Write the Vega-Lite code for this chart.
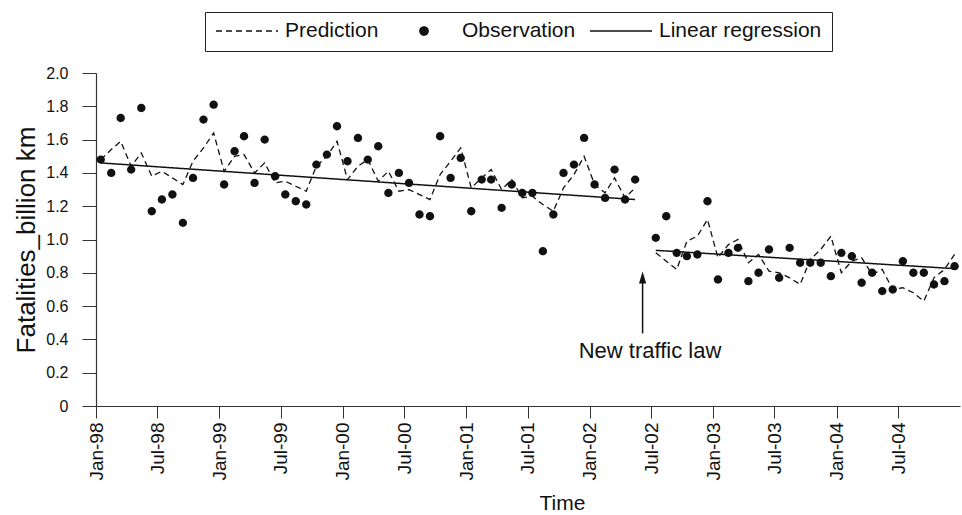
{
  "$schema": "https://vega.github.io/schema/vega-lite/v6.json",
  "width": 864,
  "height": 333,
  "autosize": {"type": "none"},
  "padding": {"left": 96, "top": 73, "right": 2, "bottom": 109},
  "background": "white",
  "config": {
    "view": {"stroke": null},
    "font": "Liberation Sans",
    "axis": {"grid": false, "domainColor": "#333", "tickColor": "#333", "labelColor": "#111", "titleColor": "#111", "labelFont": "Liberation Sans", "titleFont": "Liberation Sans", "titleFontWeight": "normal", "domainWidth": 1.2, "tickWidth": 1},
    "legend": {"padding": 10, "strokeColor": "#222", "fillColor": "white", "labelFont": "Liberation Sans", "labelFontSize": 21, "labelColor": "#111", "labelOffset": 6, "labelLimit": 300, "symbolSize": 3844, "symbolStrokeWidth": 1.3, "symbolStrokeColor": "#111", "symbolFillColor": "#111", "symbolOpacity": 1, "clipHeight": 18, "columnPadding": 13}
  },
  "data": {"values": [
    {"date": "1998-01-15", "series": "Observation", "seg": 1, "value": 1.48},
    {"date": "1998-02-15", "series": "Observation", "seg": 1, "value": 1.40},
    {"date": "1998-03-15", "series": "Observation", "seg": 1, "value": 1.73},
    {"date": "1998-04-15", "series": "Observation", "seg": 1, "value": 1.42},
    {"date": "1998-05-15", "series": "Observation", "seg": 1, "value": 1.79},
    {"date": "1998-06-15", "series": "Observation", "seg": 1, "value": 1.17},
    {"date": "1998-07-15", "series": "Observation", "seg": 1, "value": 1.24},
    {"date": "1998-08-15", "series": "Observation", "seg": 1, "value": 1.27},
    {"date": "1998-09-15", "series": "Observation", "seg": 1, "value": 1.10},
    {"date": "1998-10-15", "series": "Observation", "seg": 1, "value": 1.37},
    {"date": "1998-11-15", "series": "Observation", "seg": 1, "value": 1.72},
    {"date": "1998-12-15", "series": "Observation", "seg": 1, "value": 1.81},
    {"date": "1999-01-15", "series": "Observation", "seg": 1, "value": 1.33},
    {"date": "1999-02-15", "series": "Observation", "seg": 1, "value": 1.53},
    {"date": "1999-03-15", "series": "Observation", "seg": 1, "value": 1.62},
    {"date": "1999-04-15", "series": "Observation", "seg": 1, "value": 1.34},
    {"date": "1999-05-15", "series": "Observation", "seg": 1, "value": 1.60},
    {"date": "1999-06-15", "series": "Observation", "seg": 1, "value": 1.38},
    {"date": "1999-07-15", "series": "Observation", "seg": 1, "value": 1.27},
    {"date": "1999-08-15", "series": "Observation", "seg": 1, "value": 1.23},
    {"date": "1999-09-15", "series": "Observation", "seg": 1, "value": 1.21},
    {"date": "1999-10-15", "series": "Observation", "seg": 1, "value": 1.45},
    {"date": "1999-11-15", "series": "Observation", "seg": 1, "value": 1.51},
    {"date": "1999-12-15", "series": "Observation", "seg": 1, "value": 1.68},
    {"date": "2000-01-15", "series": "Observation", "seg": 1, "value": 1.47},
    {"date": "2000-02-15", "series": "Observation", "seg": 1, "value": 1.61},
    {"date": "2000-03-15", "series": "Observation", "seg": 1, "value": 1.48},
    {"date": "2000-04-15", "series": "Observation", "seg": 1, "value": 1.56},
    {"date": "2000-05-15", "series": "Observation", "seg": 1, "value": 1.28},
    {"date": "2000-06-15", "series": "Observation", "seg": 1, "value": 1.40},
    {"date": "2000-07-15", "series": "Observation", "seg": 1, "value": 1.34},
    {"date": "2000-08-15", "series": "Observation", "seg": 1, "value": 1.15},
    {"date": "2000-09-15", "series": "Observation", "seg": 1, "value": 1.14},
    {"date": "2000-10-15", "series": "Observation", "seg": 1, "value": 1.62},
    {"date": "2000-11-15", "series": "Observation", "seg": 1, "value": 1.37},
    {"date": "2000-12-15", "series": "Observation", "seg": 1, "value": 1.49},
    {"date": "2001-01-15", "series": "Observation", "seg": 1, "value": 1.17},
    {"date": "2001-02-15", "series": "Observation", "seg": 1, "value": 1.36},
    {"date": "2001-03-15", "series": "Observation", "seg": 1, "value": 1.36},
    {"date": "2001-04-15", "series": "Observation", "seg": 1, "value": 1.19},
    {"date": "2001-05-15", "series": "Observation", "seg": 1, "value": 1.33},
    {"date": "2001-06-15", "series": "Observation", "seg": 1, "value": 1.28},
    {"date": "2001-07-15", "series": "Observation", "seg": 1, "value": 1.28},
    {"date": "2001-08-15", "series": "Observation", "seg": 1, "value": 0.93},
    {"date": "2001-09-15", "series": "Observation", "seg": 1, "value": 1.15},
    {"date": "2001-10-15", "series": "Observation", "seg": 1, "value": 1.40},
    {"date": "2001-11-15", "series": "Observation", "seg": 1, "value": 1.45},
    {"date": "2001-12-15", "series": "Observation", "seg": 1, "value": 1.61},
    {"date": "2002-01-15", "series": "Observation", "seg": 1, "value": 1.33},
    {"date": "2002-02-15", "series": "Observation", "seg": 1, "value": 1.25},
    {"date": "2002-03-15", "series": "Observation", "seg": 1, "value": 1.42},
    {"date": "2002-04-15", "series": "Observation", "seg": 1, "value": 1.24},
    {"date": "2002-05-15", "series": "Observation", "seg": 1, "value": 1.36},
    {"date": "2002-07-15", "series": "Observation", "seg": 2, "value": 1.01},
    {"date": "2002-08-15", "series": "Observation", "seg": 2, "value": 1.14},
    {"date": "2002-09-15", "series": "Observation", "seg": 2, "value": 0.92},
    {"date": "2002-10-15", "series": "Observation", "seg": 2, "value": 0.90},
    {"date": "2002-11-15", "series": "Observation", "seg": 2, "value": 0.91},
    {"date": "2002-12-15", "series": "Observation", "seg": 2, "value": 1.23},
    {"date": "2003-01-15", "series": "Observation", "seg": 2, "value": 0.76},
    {"date": "2003-02-15", "series": "Observation", "seg": 2, "value": 0.92},
    {"date": "2003-03-15", "series": "Observation", "seg": 2, "value": 0.95},
    {"date": "2003-04-15", "series": "Observation", "seg": 2, "value": 0.75},
    {"date": "2003-05-15", "series": "Observation", "seg": 2, "value": 0.80},
    {"date": "2003-06-15", "series": "Observation", "seg": 2, "value": 0.94},
    {"date": "2003-07-15", "series": "Observation", "seg": 2, "value": 0.77},
    {"date": "2003-08-15", "series": "Observation", "seg": 2, "value": 0.95},
    {"date": "2003-09-15", "series": "Observation", "seg": 2, "value": 0.86},
    {"date": "2003-10-15", "series": "Observation", "seg": 2, "value": 0.86},
    {"date": "2003-11-15", "series": "Observation", "seg": 2, "value": 0.86},
    {"date": "2003-12-15", "series": "Observation", "seg": 2, "value": 0.78},
    {"date": "2004-01-15", "series": "Observation", "seg": 2, "value": 0.92},
    {"date": "2004-02-15", "series": "Observation", "seg": 2, "value": 0.90},
    {"date": "2004-03-15", "series": "Observation", "seg": 2, "value": 0.74},
    {"date": "2004-04-15", "series": "Observation", "seg": 2, "value": 0.80},
    {"date": "2004-05-15", "series": "Observation", "seg": 2, "value": 0.69},
    {"date": "2004-06-15", "series": "Observation", "seg": 2, "value": 0.70},
    {"date": "2004-07-15", "series": "Observation", "seg": 2, "value": 0.87},
    {"date": "2004-08-15", "series": "Observation", "seg": 2, "value": 0.80},
    {"date": "2004-09-15", "series": "Observation", "seg": 2, "value": 0.80},
    {"date": "2004-10-15", "series": "Observation", "seg": 2, "value": 0.73},
    {"date": "2004-11-15", "series": "Observation", "seg": 2, "value": 0.75},
    {"date": "2004-12-15", "series": "Observation", "seg": 2, "value": 0.84},
    {"date": "1998-01-15", "series": "Prediction", "seg": 1, "value": 1.48},
    {"date": "1998-02-15", "series": "Prediction", "seg": 1, "value": 1.54},
    {"date": "1998-03-15", "series": "Prediction", "seg": 1, "value": 1.59},
    {"date": "1998-04-15", "series": "Prediction", "seg": 1, "value": 1.44},
    {"date": "1998-05-15", "series": "Prediction", "seg": 1, "value": 1.52},
    {"date": "1998-06-15", "series": "Prediction", "seg": 1, "value": 1.38},
    {"date": "1998-07-15", "series": "Prediction", "seg": 1, "value": 1.41},
    {"date": "1998-08-15", "series": "Prediction", "seg": 1, "value": 1.37},
    {"date": "1998-09-15", "series": "Prediction", "seg": 1, "value": 1.33},
    {"date": "1998-10-15", "series": "Prediction", "seg": 1, "value": 1.47},
    {"date": "1998-11-15", "series": "Prediction", "seg": 1, "value": 1.55},
    {"date": "1998-12-15", "series": "Prediction", "seg": 1, "value": 1.64},
    {"date": "1999-01-15", "series": "Prediction", "seg": 1, "value": 1.41},
    {"date": "1999-02-15", "series": "Prediction", "seg": 1, "value": 1.50},
    {"date": "1999-03-15", "series": "Prediction", "seg": 1, "value": 1.51},
    {"date": "1999-04-15", "series": "Prediction", "seg": 1, "value": 1.40},
    {"date": "1999-05-15", "series": "Prediction", "seg": 1, "value": 1.46},
    {"date": "1999-06-15", "series": "Prediction", "seg": 1, "value": 1.34},
    {"date": "1999-07-15", "series": "Prediction", "seg": 1, "value": 1.35},
    {"date": "1999-08-15", "series": "Prediction", "seg": 1, "value": 1.32},
    {"date": "1999-09-15", "series": "Prediction", "seg": 1, "value": 1.29},
    {"date": "1999-10-15", "series": "Prediction", "seg": 1, "value": 1.44},
    {"date": "1999-11-15", "series": "Prediction", "seg": 1, "value": 1.50},
    {"date": "1999-12-15", "series": "Prediction", "seg": 1, "value": 1.59},
    {"date": "2000-01-15", "series": "Prediction", "seg": 1, "value": 1.36},
    {"date": "2000-02-15", "series": "Prediction", "seg": 1, "value": 1.44},
    {"date": "2000-03-15", "series": "Prediction", "seg": 1, "value": 1.48},
    {"date": "2000-04-15", "series": "Prediction", "seg": 1, "value": 1.35},
    {"date": "2000-05-15", "series": "Prediction", "seg": 1, "value": 1.41},
    {"date": "2000-06-15", "series": "Prediction", "seg": 1, "value": 1.29},
    {"date": "2000-07-15", "series": "Prediction", "seg": 1, "value": 1.30},
    {"date": "2000-08-15", "series": "Prediction", "seg": 1, "value": 1.27},
    {"date": "2000-09-15", "series": "Prediction", "seg": 1, "value": 1.24},
    {"date": "2000-10-15", "series": "Prediction", "seg": 1, "value": 1.39},
    {"date": "2000-11-15", "series": "Prediction", "seg": 1, "value": 1.47},
    {"date": "2000-12-15", "series": "Prediction", "seg": 1, "value": 1.55},
    {"date": "2001-01-15", "series": "Prediction", "seg": 1, "value": 1.31},
    {"date": "2001-02-15", "series": "Prediction", "seg": 1, "value": 1.37},
    {"date": "2001-03-15", "series": "Prediction", "seg": 1, "value": 1.42},
    {"date": "2001-04-15", "series": "Prediction", "seg": 1, "value": 1.30},
    {"date": "2001-05-15", "series": "Prediction", "seg": 1, "value": 1.36},
    {"date": "2001-06-15", "series": "Prediction", "seg": 1, "value": 1.25},
    {"date": "2001-07-15", "series": "Prediction", "seg": 1, "value": 1.26},
    {"date": "2001-08-15", "series": "Prediction", "seg": 1, "value": 1.21},
    {"date": "2001-09-15", "series": "Prediction", "seg": 1, "value": 1.17},
    {"date": "2001-10-15", "series": "Prediction", "seg": 1, "value": 1.31},
    {"date": "2001-11-15", "series": "Prediction", "seg": 1, "value": 1.39},
    {"date": "2001-12-15", "series": "Prediction", "seg": 1, "value": 1.50},
    {"date": "2002-01-15", "series": "Prediction", "seg": 1, "value": 1.33},
    {"date": "2002-02-15", "series": "Prediction", "seg": 1, "value": 1.28},
    {"date": "2002-03-15", "series": "Prediction", "seg": 1, "value": 1.37},
    {"date": "2002-04-15", "series": "Prediction", "seg": 1, "value": 1.25},
    {"date": "2002-05-15", "series": "Prediction", "seg": 1, "value": 1.31},
    {"date": "2002-07-15", "series": "Prediction", "seg": 2, "value": 0.92},
    {"date": "2002-08-15", "series": "Prediction", "seg": 2, "value": 0.87},
    {"date": "2002-09-15", "series": "Prediction", "seg": 2, "value": 0.82},
    {"date": "2002-10-15", "series": "Prediction", "seg": 2, "value": 0.99},
    {"date": "2002-11-15", "series": "Prediction", "seg": 2, "value": 1.02},
    {"date": "2002-12-15", "series": "Prediction", "seg": 2, "value": 1.12},
    {"date": "2003-01-15", "series": "Prediction", "seg": 2, "value": 0.89},
    {"date": "2003-02-15", "series": "Prediction", "seg": 2, "value": 0.97},
    {"date": "2003-03-15", "series": "Prediction", "seg": 2, "value": 1.00},
    {"date": "2003-04-15", "series": "Prediction", "seg": 2, "value": 0.86},
    {"date": "2003-05-15", "series": "Prediction", "seg": 2, "value": 0.91},
    {"date": "2003-06-15", "series": "Prediction", "seg": 2, "value": 0.81},
    {"date": "2003-07-15", "series": "Prediction", "seg": 2, "value": 0.80},
    {"date": "2003-08-15", "series": "Prediction", "seg": 2, "value": 0.77},
    {"date": "2003-09-15", "series": "Prediction", "seg": 2, "value": 0.73},
    {"date": "2003-10-15", "series": "Prediction", "seg": 2, "value": 0.88},
    {"date": "2003-11-15", "series": "Prediction", "seg": 2, "value": 0.94},
    {"date": "2003-12-15", "series": "Prediction", "seg": 2, "value": 1.02},
    {"date": "2004-01-15", "series": "Prediction", "seg": 2, "value": 0.80},
    {"date": "2004-02-15", "series": "Prediction", "seg": 2, "value": 0.87},
    {"date": "2004-03-15", "series": "Prediction", "seg": 2, "value": 0.89},
    {"date": "2004-04-15", "series": "Prediction", "seg": 2, "value": 0.79},
    {"date": "2004-05-15", "series": "Prediction", "seg": 2, "value": 0.82},
    {"date": "2004-06-15", "series": "Prediction", "seg": 2, "value": 0.70},
    {"date": "2004-07-15", "series": "Prediction", "seg": 2, "value": 0.71},
    {"date": "2004-08-15", "series": "Prediction", "seg": 2, "value": 0.68},
    {"date": "2004-09-15", "series": "Prediction", "seg": 2, "value": 0.63},
    {"date": "2004-10-15", "series": "Prediction", "seg": 2, "value": 0.77},
    {"date": "2004-11-15", "series": "Prediction", "seg": 2, "value": 0.82},
    {"date": "2004-12-15", "series": "Prediction", "seg": 2, "value": 0.91},
    {"date": "1998-01-15", "series": "Linear regression", "seg": 1, "value": 1.46},
    {"date": "2002-05-15", "series": "Linear regression", "seg": 1, "value": 1.24},
    {"date": "2002-07-15", "series": "Linear regression", "seg": 2, "value": 0.935},
    {"date": "2004-12-15", "series": "Linear regression", "seg": 2, "value": 0.825}
  ]},
  "encoding": {
    "x": {
      "field": "date", "type": "temporal",
      "scale": {"type": "utc", "domain": [{"year": 1998, "month": 1, "date": 1, "utc": true}, {"year": 2004, "month": 12, "date": 31, "utc": true}]},
      "axis": {"title": "Time", "format": "%b-%y", "labelAngle": -90, "tickCount": {"interval": "month", "step": 6}, "tickSize": 12, "labelPadding": 4, "labelFontSize": 19, "titleFontSize": 21, "titlePadding": 12, "labelFlush": false, "labelOverlap": false, "titleX": 466}
    },
    "y": {
      "field": "value", "type": "quantitative",
      "scale": {"domain": [0, 2], "nice": false},
      "axis": {"title": "Fatalities_billion km", "values": [0, 0.2, 0.4, 0.6, 0.8, 1.0, 1.2, 1.4, 1.6, 1.8, 2.0], "labelExpr": "datum.value == 0 ? '0' : format(datum.value, '.1f')", "tickSize": 14, "labelPadding": 14, "labelFontSize": 16, "titleFontSize": 26, "titlePadding": 6}
    }
  },
  "layer": [
    {
      "transform": [{"filter": "datum.series == 'Observation'"}],
      "mark": {"type": "point", "filled": true, "size": 3844, "color": "#111", "opacity": 1},
      "encoding": {
        "shape": {"field": "series", "type": "nominal",
          "scale": {"domain": ["Prediction", "Observation", "Linear regression"], "range": ["stroke", "M0.135,0A0.135,0.135,0,1,1,-0.135,0A0.135,0.135,0,1,1,0.135,0Z", "stroke"]},
          "legend": {"title": null, "orient": "none", "legendX": 109, "legendY": -61, "direction": "horizontal", "columns": 3,
            "encode": {"symbols": {"update": {"fill": {"value": "#111"}, "stroke": {"value": "#111"}, "strokeWidth": {"value": 1.3}, "opacity": {"value": 1}}}}}
        }
      }
    },
    {
      "transform": [{"filter": "datum.series == 'Prediction'"}],
      "mark": {"type": "line", "color": "#111", "strokeWidth": 1.3},
      "encoding": {
        "detail": {"field": "seg", "type": "nominal"},
        "strokeDash": {"field": "series", "type": "nominal",
          "scale": {"domain": ["Prediction", "Observation", "Linear regression"], "range": [[6, 4], [1, 0], [1, 0]]},
          "legend": {"title": null, "orient": "none", "legendX": 109, "legendY": -61, "direction": "horizontal", "columns": 3,
            "encode": {"symbols": {"update": {"fill": {"value": "#111"}, "stroke": {"value": "#111"}, "strokeWidth": {"value": 1.3}, "opacity": {"value": 1}}}}}
        }
      }
    },
    {
      "transform": [{"filter": "datum.series == 'Linear regression'"}],
      "mark": {"type": "line", "color": "#111", "strokeWidth": 1.5},
      "encoding": {
        "detail": {"field": "seg", "type": "nominal"},
        "strokeDash": {"field": "series", "type": "nominal",
          "scale": {"domain": ["Prediction", "Observation", "Linear regression"], "range": [[6, 4], [1, 0], [1, 0]]},
          "legend": {"title": null, "orient": "none", "legendX": 109, "legendY": -61, "direction": "horizontal", "columns": 3,
            "encode": {"symbols": {"update": {"fill": {"value": "#111"}, "stroke": {"value": "#111"}, "strokeWidth": {"value": 1.3}, "opacity": {"value": 1}}}}}
        }
      }
    },
    {
      "data": {"values": [{"date": "2002-06-06", "value": 0.436, "value2": 0.77}]},
      "mark": {"type": "rule", "color": "#111", "strokeWidth": 1.5},
      "encoding": {"y2": {"field": "value2"}}
    },
    {
      "data": {"values": [{"date": "2002-06-06", "value": 0.772}]},
      "mark": {"type": "point", "filled": true, "color": "#111", "opacity": 1, "size": 144, "shape": "M0,-1L0.6,1L-0.6,1Z"}
    },
    {
      "data": {"values": [{"date": "2002-06-28", "value": 0.286, "label": "New traffic law"}]},
      "mark": {"type": "text", "font": "Liberation Sans", "fontSize": 22, "color": "#111", "align": "center", "baseline": "alphabetic"},
      "encoding": {"text": {"field": "label"}}
    }
  ]
}
